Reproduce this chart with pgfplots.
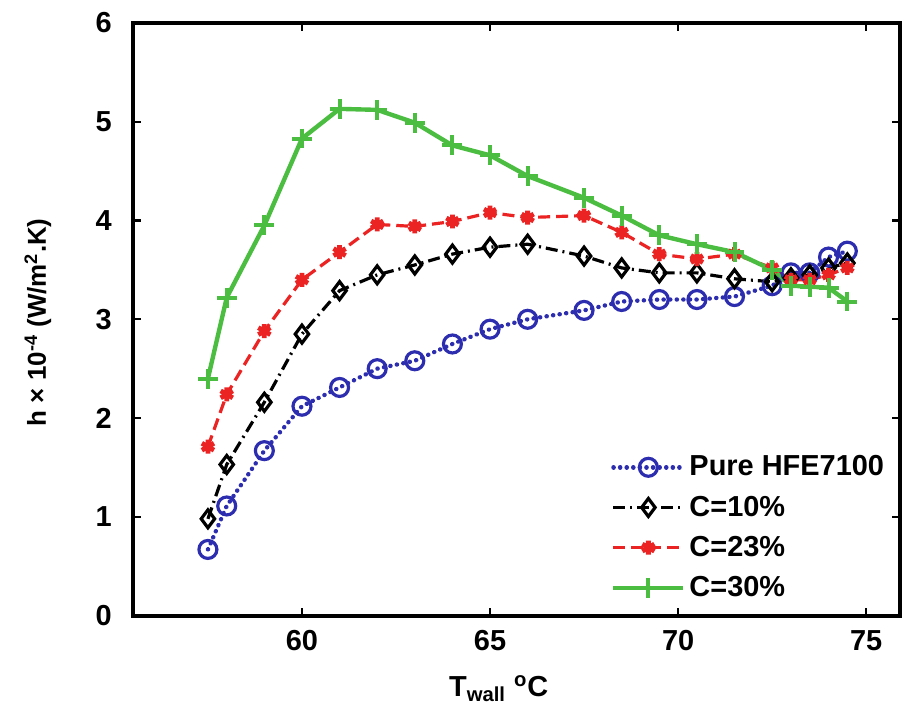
\documentclass[border=0pt]{standalone}
\usepackage{fontspec}
\setmainfont{Liberation Sans}
\usepackage{pgfplots}
\pgfplotsset{compat=1.18}
\definecolor{mblue}{RGB}{45,45,175}
\definecolor{mred}{RGB}{235,35,35}
\definecolor{mgreen}{RGB}{75,190,65}
\newcommand{\bigfont}{\fontsize{14.5}{17}\selectfont\bfseries}
\begin{document}
\begin{tikzpicture}
\begin{axis}[
  scale only axis, width=384.5pt, height=297pt,
  xmin=55.5, xmax=75.9, ymin=0, ymax=6,
  xtick={60,65,70,75}, ytick={0,1,2,3,4,5,6},
  axis line style={line width=2pt},
  tick style={line width=1.2pt, black},
  major tick length=4pt,
  /pgf/number format/assume math mode=true,
  tick label style={font=\bigfont},
  xticklabel style={yshift=-4pt},
  yticklabel style={xshift=-7pt},
  xlabel={T\textsubscript{wall} \textsuperscript{o}C},
  ylabel={h × 10\textsuperscript{-4} (W/m\textsuperscript{2}.K)},
  label style={font=\bigfont, inner sep=0pt},
  xlabel style={at={(rel axis cs:0.477,-0.1)}, anchor=north},
  ylabel style={at={(rel axis cs:-0.1235,0.495)}, anchor=center, font=\fontsize{13}{15}\selectfont\bfseries},
  legend style={at={(rel axis cs:0.985,0.02)}, anchor=south east, draw=none, fill=none,
    font=\bigfont, row sep=4.5pt, inner sep=0pt},
  legend cell align=left,
  legend image code/.code={\draw[mark repeat=2,mark phase=2] plot coordinates {(0pt,0pt) (17.5pt,0pt) (35pt,0pt)};},
]
\coordinate (ll) at (rel axis cs:0,0);
\coordinate (ur) at (rel axis cs:1,1);
\addplot[mblue, line width=2.2pt, dash pattern=on 0.1pt off 3.2pt, line cap=round,
  mark=o, mark size=4.5pt, mark options={solid, line width=1.6pt}] coordinates {
(57.5,0.67) (58,1.11) (59,1.67) (60,2.12) (61,2.31) (62,2.50) (63,2.58) (64,2.75)
(65,2.90) (66,3.00) (67.5,3.09) (68.5,3.18) (69.5,3.20) (70.5,3.20) (71.5,3.23)
(72.5,3.34) (73,3.47) (73.5,3.47) (74,3.63) (74.5,3.69)};
\addlegendentry{Pure HFE7100}
\addplot[black, line width=1.6pt, dash pattern=on 6pt off 2.5pt on 1pt off 2.5pt,
  mark=diamond, mark size=4.5pt, mark options={solid, line width=1.6pt}] coordinates {
(57.5,0.98) (58,1.53) (59,2.16) (60,2.85) (61,3.29) (62,3.45) (63,3.55) (64,3.66)
(65,3.73) (66,3.76) (67.5,3.64) (68.5,3.52) (69.5,3.47) (70.5,3.47) (71.5,3.41)
(72.5,3.38) (73,3.42) (73.5,3.45) (74,3.52) (74.5,3.57)};
\addlegendentry{C=10\%}
\addplot[mred, line width=1.6pt, dash pattern=on 6pt off 3pt,
  mark=asterisk, mark size=3.5pt, mark options={solid, line width=2.4pt}] coordinates {
(57.5,1.71) (58,2.24) (59,2.88) (60,3.40) (61,3.68) (62,3.96) (63,3.94) (64,3.99)
(65,4.08) (66,4.03) (67.5,4.05) (68.5,3.88) (69.5,3.66) (70.5,3.61) (71.5,3.66)
(72.5,3.52) (73,3.40) (73.5,3.40) (74,3.45) (74.5,3.52)};
\addlegendentry{C=23\%}
\addplot[mgreen, line width=2.2pt, solid,
  mark=+, mark size=5pt, mark options={solid, line width=2pt}] coordinates {
(57.5,2.40) (58,3.22) (59,3.95) (60,4.83) (61,5.13) (62,5.12) (63,4.99) (64,4.76)
(65,4.66) (66,4.45) (67.5,4.23) (68.5,4.05) (69.5,3.85) (70.5,3.76) (71.5,3.68)
(72.5,3.50) (73,3.34) (73.5,3.33) (74,3.32) (74.5,3.18)};
\addlegendentry{C=30\%}
\end{axis}
\pgfresetboundingbox
\path ([xshift=-66.5pt,yshift=-52pt]ll) rectangle ([xshift=1pt,yshift=11.5pt]ur);
\end{tikzpicture}
\end{document}
